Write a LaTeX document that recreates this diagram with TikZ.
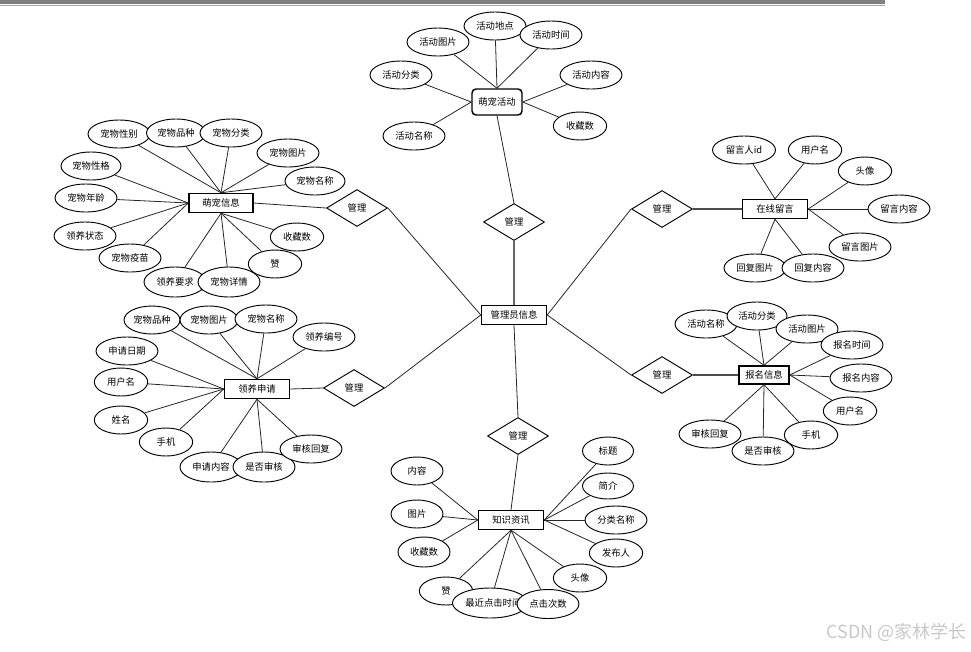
\documentclass[tikz,border=0pt]{standalone}
\usepackage{fontspec}
\setmainfont{Noto Sans CJK SC}
\usepackage{tikz}
\usetikzlibrary{shapes.geometric}

\definecolor{bargray}{HTML}{7F7F7F}
\definecolor{marklight}{HTML}{C8C8C8}

\tikzset{
  attr/.style={ellipse, draw, fill=white, line width=0.7pt, inner sep=0pt,
    minimum width=46.5pt, minimum height=21pt, font=\fontsize{7pt}{8pt}\selectfont},
  attrs/.style={attr, minimum width=40pt},
  ent/.style={rectangle, draw, fill=white, line width=1.1pt, inner sep=0pt,
    minimum width=48.75pt, minimum height=14.25pt, font=\fontsize{7pt}{8pt}\selectfont},
  rel/.style={diamond, draw, fill=white, line width=0.7pt, inner sep=0pt,
    minimum width=45.75pt, minimum height=27.75pt, font=\fontsize{7pt}{8pt}\selectfont},
  link/.style={line width=0.6pt, black!85}
}

\begin{document}
\begin{tikzpicture}[x=0.75pt, y=-0.75pt]
		\useasboundingbox (0,0) rectangle (971,651);
		
		% Bar at the top
		\fill[bargray] (0,0) rectangle (885,4);
		\fill[bargray!70] (0,4.8) rectangle (885,6);
		
		% Centre
		\node[ent] (gly) at (514,315) {管理员信息};
		\node[rel] (rel1) at (357,208) {管理};
		\node[rel] (rel2) at (354,388) {管理};
		\node[rel] (rel3) at (514,222) {管理};
		\node[rel] (rel4) at (662,209) {管理};
		\node[rel] (rel5) at (662,375) {管理};
		\node[rel] (rel6) at (518,436) {管理};
		
		% Pet activity
		\node[ent, rounded corners=3pt, minimum width=37.5pt, minimum height=19.5pt] (mchd) at (497,102) {萌宠活动};
		\node[attr] (hdtp) at (438,42) {活动图片};
		\node[attr] (hddd) at (495,26) {活动地点};
		\node[attr] (hdsj) at (551,35) {活动时间};
		\node[attr] (hdfl) at (401,75) {活动分类};
		\node[attr] (hdnr) at (591,75) {活动内容};
		\node[attrs] (hdsc) at (580,126) {收藏数};
		\node[attr] (hdmc) at (414,136) {活动名称};
		
		\draw[link] (hdtp) -- (mchd.north);
		\draw[link] (hddd) -- (mchd.north);
		\draw[link] (hdsj) -- (mchd.north);
		\draw[link] (hdfl) -- (mchd.west);
		\draw[link] (hdmc) -- (mchd.west);
		\draw[link] (hdnr) -- (mchd.east);
		\draw[link] (hdsc) -- (mchd.east);
		
		% Pet info
		\node[ent, minimum width=48pt] (mcxx) at (221,203) {萌宠信息};
		\node[attr] (cwxb) at (119,134) {宠物性别};
		\node[attr, minimum width=44.25pt] (cwpz) at (176,133) {宠物品种};
		\node[attr] (cwfl) at (231,133) {宠物分类};
		\node[attr] (cwtp) at (288,153) {宠物图片};
		\node[attr, minimum width=45pt] (cwmc) at (315,181) {宠物名称};
		\node[attr, minimum width=45pt] (cwxg) at (91,166) {宠物性格};
		\node[attr] (cwnl) at (86,198) {宠物年龄};
		\node[attr] (lyzt) at (85,236) {领养状态};
		\node[attr] (cwym) at (130,258) {宠物疫苗};
		\node[attr, minimum height=22.5pt] (lyyq) at (175,282) {领养要求};
		\node[attr, minimum height=22.5pt] (cwxq) at (229,282) {宠物详情};
		\node[attrs] (cwsc) at (297,237) {收藏数};
		\node[attrs] (cwz) at (275,264) {赞};
		
		\draw[link] (cwxb) -- (mcxx.north);
		\draw[link] (cwpz) -- (mcxx.north);
		\draw[link] (cwfl) -- (mcxx.north);
		\draw[link] (cwtp) -- (mcxx.north);
		\draw[link] (cwmc) -- (mcxx.north);
		\draw[link] (cwxg) -- (mcxx.west);
		\draw[link] (cwnl) -- (mcxx.west);
		\draw[link] (lyzt) -- (mcxx.west);
		\draw[link] (cwym) -- (mcxx.west);
		\draw[link] (lyyq) -- (mcxx.south);
		\draw[link] (cwxq) -- (mcxx.south);
		\draw[link] (cwz) -- (mcxx.south);
		\draw[link] (cwsc) -- (mcxx.south);
		
		% Adoption request
		\node[ent] (lysq) at (257,389) {领养申请};
		\node[attr, minimum width=42pt] (sqpz) at (152,320) {宠物品种};
		\node[attr, minimum width=43.5pt] (sqtp) at (209,320) {宠物图片};
		\node[attr] (sqmc) at (266,319) {宠物名称};
		\node[attr] (lybh) at (324,337) {领养编号};
		\node[attr] (sqrq) at (127,351) {申请日期};
		\node[attrs] (sqyh) at (121,382) {用户名};
		\node[attrs] (sqxm) at (121,420) {姓名};
		\node[attrs] (sqsj) at (166,442) {手机};
		\node[attr, minimum height=22.5pt] (sqnr) at (211,467) {申请内容};
		\node[attr, minimum height=22.5pt] (sqsh) at (264,467) {是否审核};
		\node[attr] (sqhf) at (311,449) {审核回复};
		
		\draw[link] (sqpz) -- (lysq.north);
		\draw[link] (sqtp) -- (lysq.north);
		\draw[link] (sqmc) -- (lysq.north);
		\draw[link] (lybh) -- (lysq.north);
		\draw[link] (sqrq) -- (lysq.west);
		\draw[link] (sqyh) -- (lysq.west);
		\draw[link] (sqxm) -- (lysq.west);
		\draw[link] (sqsj) -- (lysq.west);
		\draw[link] (sqnr) -- (lysq.south);
		\draw[link] (sqsh) -- (lysq.south);
		\draw[link] (sqhf) -- (lysq.south);
		
		% Online messages
		\node[ent] (zxly) at (775,209) {在线留言};
		\node[attr, minimum width=47.25pt] (lyid) at (744,150) {留言人id};
		\node[attrs] (lyyh) at (815,150) {用户名};
		\node[attrs] (lytx) at (865,171) {头像};
		\node[attr] (lynr) at (899,209) {留言内容};
		\node[attr] (lytp) at (860,247) {留言图片};
		\node[attr] (hftp) at (755,268) {回复图片};
		\node[attr] (hfnr) at (813,268) {回复内容};
		
		\draw[link] (lyid) -- (zxly.north);
		\draw[link] (lyyh) -- (zxly.north);
		\draw[link] (lytx) -- (zxly.east);
		\draw[link] (lynr) -- (zxly.east);
		\draw[link] (lytp) -- (zxly.east);
		\draw[link] (hftp) -- (zxly.south);
		\draw[link] (hfnr) -- (zxly.south);
		
		% Sign-up info
		\node[ent, minimum width=37.5pt, minimum height=13.5pt] (bmxx) at (764,375) {报名信息};
		\node[attr] (bmhd) at (706,324) {活动名称};
		\node[attr, minimum width=45pt] (bmfl) at (757,316) {活动分类};
		\node[attr] (bmtp) at (807,329) {活动图片};
		\node[attr] (bmsj) at (852,345) {报名时间};
		\node[attr] (bmnr) at (861,378) {报名内容};
		\node[attrs] (bmyh) at (850,411) {用户名};
		\node[attrs] (bmshj) at (811,435) {手机};
		\node[attr] (bmhf) at (710,434) {审核回复};
		\node[attr] (bmsh) at (763,451) {是否审核};
		
		\draw[link] (bmhd) -- (bmxx.north);
		\draw[link] (bmfl) -- (bmxx.north);
		\draw[link] (bmtp) -- (bmxx.north);
		\draw[link] (bmsj) -- (bmxx.east);
		\draw[link] (bmnr) -- (bmxx.east);
		\draw[link] (bmyh) -- (bmxx.east);
		\draw[link] (bmhf) -- (bmxx.south);
		\draw[link] (bmsh) -- (bmxx.south);
		\draw[link] (bmshj) -- (bmxx.south);
		
		% Knowledge news
		\node[ent] (zszx) at (511,520) {知识资讯};
		\node[attrs, minimum width=39pt] (zxnr) at (417,471) {内容};
		\node[attrs, minimum width=39pt] (zxtp) at (417,514) {图片};
		\node[attrs, minimum width=39pt, minimum height=22.5pt] (zxsc) at (424,552) {收藏数};
		\node[attrs] (zxz) at (446,591) {赞};
		\node[attr, minimum width=56.25pt, minimum height=22.5pt] (zxsj) at (490,603) {\makebox[30pt][c]{\hspace*{5pt}最近点击时间}};
		\node[attrs] (zxtx) at (580,578) {头像};
		\node[attr, minimum height=21.75pt] (zxcs) at (548,604) {点击次数};
		\node[attrs] (zxfb) at (616,553) {发布人};
		\node[attr] (zxfl) at (616,520) {分类名称};
		\node[attrs, minimum width=38.25pt, minimum height=19.5pt] (zxjj) at (608,486) {简介};
		\node[attrs, minimum width=38.25pt] (zxbt) at (608,451) {标题};
		
		\draw[link] (zxnr) -- (zszx.west);
		\draw[link] (zxtp) -- (zszx.west);
		\draw[link] (zxsc) -- (zszx.west);
		\draw[link] (zxz) -- (zszx.south);
		\draw[link] (zxsj) -- (zszx.south);
		\draw[link] (zxcs) -- (zszx.south);
		\draw[link] (zxtx) -- (zszx.south);
		\draw[link] (zxbt) -- (zszx.east);
		\draw[link] (zxjj) -- (zszx.east);
		\draw[link] (zxfl) -- (zszx.east);
		\draw[link] (zxfb) -- (zszx.east);
		
		% Relations
		\draw[link] (mchd.south) -- (rel3.north);
		\draw[link, line width=1pt, black!60] (rel3.south) -- (gly.north);
		\draw[link] (mcxx.east) -- (rel1.west);
		\draw[link] (rel1.east) -- (gly.west);
		\draw[link] (lysq.east) -- (rel2.west);
		\draw[link] (rel2.east) -- (gly.west);
		\draw[link] (gly.east) -- (rel4.west);
		\draw[link, line width=1pt, black!70] (rel4.east) -- (zxly.west);
		\draw[link] (gly.east) -- (rel5.west);
		\draw[link, line width=1pt, black!70] (rel5.east) -- (bmxx.west);
		\draw[link] (gly.south) -- (rel6.north);
		\draw[link] (rel6.south) -- (zszx.north);
		
		% Watermark
		\node[anchor=east, text=marklight, font=\fontsize{13.5pt}{15pt}\selectfont, inner sep=0pt] (mark) at (967,632) {CSDN @家林学长};
	\end{tikzpicture}
\end{document}
